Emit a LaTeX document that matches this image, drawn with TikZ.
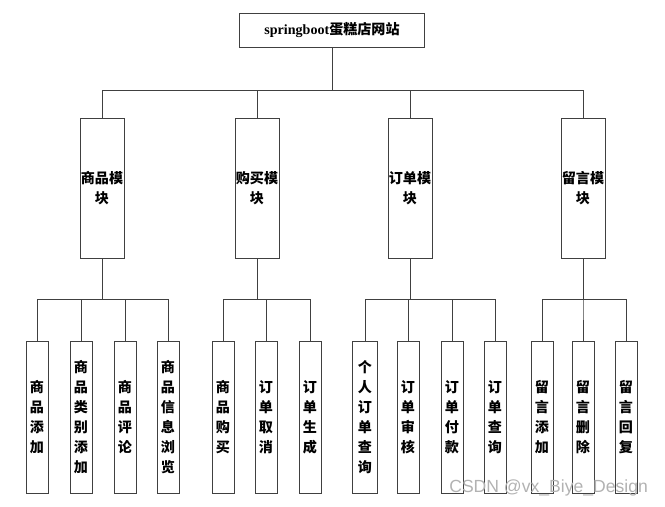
\documentclass[tikz,border=0pt]{standalone}
\usepackage{fontspec}
\setmainfont{Liberation Serif}
\newfontfamily\cjk{Noto Sans CJK SC}
\usepackage{tikz}
\usetikzlibrary{positioning}
\definecolor{linegray}{RGB}{64,64,64}

\tikzset{
	topbox/.style={draw=linegray,line width=0.8pt,minimum width=5.55cm,minimum height=1.02cm,inner sep=0pt},
	modbox/.style={draw=linegray,line width=0.8pt,minimum width=1.32cm,minimum height=4.2cm,inner sep=0pt,align=center,font=\cjk\bfseries\fontsize{12}{17}\selectfont},
	leafbox/.style={draw=linegray,line width=0.8pt,minimum width=0.66cm,minimum height=4.56cm,inner sep=0pt,align=center,font=\cjk\bfseries\fontsize{12}{17}\selectfont},
	link/.style={draw=linegray,line width=0.8pt}
}

\begin{document}
\begin{tikzpicture}[x=0.03cm,y=-0.03cm]
			\useasboundingbox (0,0) rectangle (665,507);
			% top
			\node[topbox] (site) at (332,30) {\fontsize{12}{14}\selectfont\bfseries springboot{\cjk 蛋糕店网站}};
			% modules
			\node[modbox] (m1) at (102,188) {商品模\\块};
			\node[modbox] (m2) at (257,188) {购买模\\块};
			\node[modbox] (m3) at (410,188) {订单模\\块};
			\node[modbox] (m4) at (583,188) {留言模\\块};
			% leaves
			\node[leafbox] (l11) at (37,417) {商\\品\\添\\加};
			\node[leafbox] (l12) at (81,417) {商\\品\\类\\别\\添\\加};
			\node[leafbox] (l13) at (125,417) {商\\品\\评\\论};
			\node[leafbox] (l14) at (168,417) {商\\品\\信\\息\\浏\\览};
			\node[leafbox] (l21) at (223,417) {商\\品\\购\\买};
			\node[leafbox] (l22) at (266,417) {订\\单\\取\\消};
			\node[leafbox] (l23) at (310,417) {订\\单\\生\\成};
			\node[leafbox,minimum width=0.75cm] (l31) at (365,417) {个\\人\\订\\单\\查\\询};
			\node[leafbox] (l32) at (408,417) {订\\单\\审\\核};
			\node[leafbox] (l33) at (452,417) {订\\单\\付\\款};
			\node[leafbox] (l34) at (495,417) {订\\单\\查\\询};
			\node[leafbox] (l41) at (542,417) {留\\言\\添\\加};
			\node[leafbox] (l42) at (583,417) {留\\言\\删\\除};
			\node[leafbox] (l43) at (626,417) {留\\言\\回\\复};
			% connectors
			\foreach \m in {m1,m2,m3,m4}
				\draw[link] (site.south) -- ++(0,43) -| (\m.north);
			\foreach \l in {l11,l12,l13,l14}
				\draw[link] (m1.south) -- ++(0,41) -| (\l.north);
			\foreach \l in {l21,l22,l23}
				\draw[link] (m2.south) -- ++(0,41) -| (\l.north);
			\foreach \l in {l31,l32,l33,l34}
				\draw[link] (m3.south) -- ++(0,41) -| (\l.north);
			\foreach \l in {l41,l42,l43}
				\draw[link] (m4.south) -- ++(0,41) -| (\l.north);
			% watermark
			\node[text=black!30,font=\fontspec{Liberation Sans}\fontsize{15}{17}\selectfont,anchor=east] (mark) at (652,488) {CSDN @vx\_Biye\_Design};
		\end{tikzpicture}
\end{document}
